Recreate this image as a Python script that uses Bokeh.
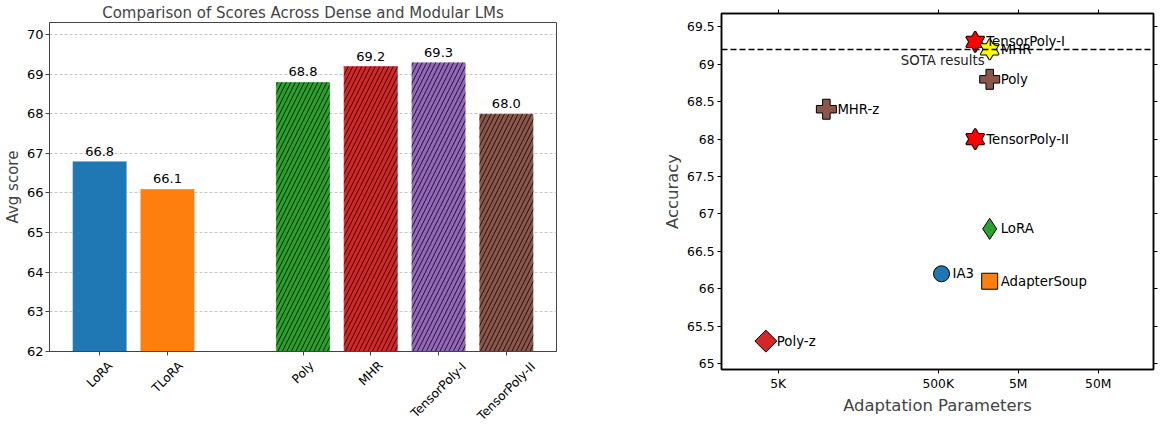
import math
from bokeh.plotting import figure
from bokeh.models import Range1d, FixedTicker, LinearAxis, LogAxis
from bokeh.layouts import row, column
from bokeh.embed import file_html
from bokeh.resources import INLINE
from bokeh.core.properties import value

# ---------------- data: bar chart ----------------
bar_title = "Comparison of Scores Across Dense and Modular LMs"
dense_models = ["LoRA", "TLoRA"]
dense_scores = [66.8, 66.1]
modular_models = ["Poly", "MHR", "TensorPoly-I", "TensorPoly-II"]
modular_scores = [68.8, 69.2, 69.3, 68.0]
score_ticks = [62, 63, 64, 65, 66, 67, 68, 69, 70]
score_label = "Avg score"

# ---------------- data: scatter ----------------
methods = ["TensorPoly-I", "MHR", "Poly", "MHR-z", "TensorPoly-II",
           "LoRA", "IA3", "AdapterSoup", "Poly-z"]
params = [1.45e6, 2.2e6, 2.2e6, 2.0e4, 1.45e6, 2.2e6, 5.5e5, 2.2e6, 3.5e3]
accuracy = [69.3, 69.2, 68.8, 68.4, 68.0, 66.8, 66.2, 66.1, 65.3]
sota_value = 69.2
sota_label = "SOTA results"
sota_label_x = 1.9e6
param_ticks = [5e3, 5e5, 5e6, 5e7]
param_tick_labels = ["5K", "500K", "5M", "50M"]
acc_ticks = [65, 65.5, 66, 66.5, 67, 67.5, 68, 68.5, 69, 69.5]
x_label = "Adaptation Parameters"
y_label = "Accuracy"

# ---------------- styles ----------------
FONT = "DejaVu Sans"
dense_colors = ["#1f77b4", "#ff7f0e"]
modular_colors = ["#2ca02c", "#d62728", "#9467bd", "#8c564b"]
marker_style = {
    "TensorPoly-I": ("hexagram", "#ff0000", 18),
    "MHR": ("hexagram", "#ffff00", 18),
    "Poly": ("plus", "#8c564b", 20),
    "MHR-z": ("plus", "#8c564b", 20),
    "TensorPoly-II": ("hexagram", "#ff0000", 18),
    "LoRA": ("diamond", "#2ca02c", 21),
    "IA3": ("circle", "#1f77b4", 16),
    "AdapterSoup": ("square", "#ff7f0e", 16),
    "Poly-z": ("rdiamond", "#d62728", 15.5),
}
# approximate DejaVu Sans advance widths (em), used to centre rotated tick labels
EM = {"L": .557, "o": .612, "R": .695, "A": .684, "T": .611, "P": .603, "l": .278,
      "y": .592, "M": .863, "H": .752, "e": .615, "n": .634, "s": .521, "r": .411,
      "-": .361, "I": .295}


def text_em(s):
    return sum(EM.get(c, 0.6) for c in s)


# ================= left: bar chart =================
n_dense = len(dense_models)
dense_x = list(range(n_dense))
modular_x = [n_dense + 1 + i for i in range(len(modular_models))]
all_x = dense_x + modular_x
all_names = dense_models + modular_models
all_scores = dense_scores + modular_scores

LEFT_B, RIGHT_B, FRAME_W = 45, 10, 507
AX_B = 8          # space under the bar frame kept by the (label-less) x axis
STRIP_H = 66      # strip holding the rotated category names

bar_xr = Range1d(-0.74, max(all_x) + 0.74)
p1 = figure(frame_width=FRAME_W, frame_height=329, x_range=bar_xr,
            y_range=Range1d(score_ticks[0], 70.3),
            title=bar_title, output_backend="svg", toolbar_location=None,
            min_border_left=LEFT_B, min_border_right=RIGHT_B, min_border_top=16,
            min_border_bottom=AX_B)
p1.title.align = "center"
p1.title.text_font = FONT
p1.title.text_font_size = "15px"
p1.title.text_font_style = "normal"
p1.title.standoff = 2

p1.vbar(x=dense_x, top=dense_scores, bottom=0, width=0.8,
        fill_color=dense_colors, line_color="white", line_width=0.6, line_alpha=0.6)
p1.vbar(x=modular_x, top=modular_scores, bottom=0, width=0.8,
        fill_color=modular_colors, line_color="white", line_width=0.6, line_alpha=0.6,
        hatch_pattern="/", hatch_color="black", hatch_scale=9, hatch_weight=0.8)
p1.text(x=all_x, y=all_scores, text=[f"{v:.1f}" for v in all_scores],
        text_align="center", text_baseline="alphabetic", y_offset=-10,
        text_font=value(FONT), text_font_size="13px", text_color="black")

p1.xaxis.ticker = FixedTicker(ticks=all_x)
p1.xaxis.major_label_text_font_size = "1px"
p1.xaxis.major_label_text_alpha = 0
p1.yaxis.ticker = FixedTicker(ticks=score_ticks)
p1.yaxis.major_label_text_font_size = "13px"
p1.yaxis.axis_label = score_label
for ax in (p1.xaxis[0], p1.yaxis[0]):
    ax.major_label_text_font = FONT
    ax.major_label_text_color = "black"
    ax.axis_label_text_font = FONT
    ax.axis_label_text_font_size = "15px"
    ax.axis_label_text_font_style = "normal"
    ax.axis_label_standoff = 2
    ax.major_tick_in = 0
    ax.major_tick_out = 4
    ax.minor_tick_out = 0
    ax.major_label_standoff = 2
    ax.axis_line_color = "#444444"
    ax.major_tick_line_color = "#444444"
p1.xaxis.major_label_standoff = 0
p1.xgrid.visible = False
p1.ygrid.ticker = FixedTicker(ticks=score_ticks)
p1.ygrid.grid_line_color = "#b8b8b8"
p1.ygrid.grid_line_dash = "3 2"
p1.ygrid.grid_line_width = 0.8
p1.outline_line_color = "#444444"
p1.outline_line_width = 1

# strip under the bars with the rotated category names, centred under their ticks
tick_px = 12.2
strip = figure(frame_width=FRAME_W, frame_height=STRIP_H, x_range=bar_xr,
               y_range=Range1d(-STRIP_H, 0), output_backend="svg", toolbar_location=None,
               x_axis_location=None, y_axis_location=None,
               min_border_left=LEFT_B, min_border_right=RIGHT_B,
               min_border_top=0, min_border_bottom=0)
strip.grid.visible = False
strip.outline_line_color = None
half_diag = [(text_em(n) + 1.164) * tick_px * math.sqrt(0.5) / 2 for n in all_names]
strip.text(x=all_x, y=[-(7.0 + d - AX_B) for d in half_diag], text=all_names,
           angle=math.pi / 4, text_align="center", text_baseline="middle",
           text_font=value(FONT), text_font_size=f"{tick_px}px", text_color="black")

# ================= right: scatter =================
p2 = figure(width=592, height=419, x_axis_type="log",
            x_range=Range1d(10 ** 2.99, 10 ** 8.39),
            y_range=Range1d(64.92, 69.68),
            output_backend="svg", toolbar_location=None,
            min_border_left=155, min_border_right=5, min_border_top=13,
            min_border_bottom=50)
p2.grid.visible = False
p2.outline_line_color = "black"
p2.outline_line_width = 1.5

for name, x, y in zip(methods, params, accuracy):
    kind, color, size = marker_style[name]
    if kind == "hexagram":
        for lc in ("black", None):
            for m in ("triangle", "inverted_triangle"):
                p2.scatter([x], [y], marker=m, size=size, fill_color=color,
                           line_color=lc, line_width=2)
    elif kind == "rdiamond":
        p2.scatter([x], [y], marker="square", angle=math.pi / 4, size=size,
                   fill_color=color, line_color="black", line_width=1)
    else:
        p2.scatter([x], [y], marker=kind, size=size, fill_color=color,
                   line_color="black", line_width=1)

p2.hspan(y=[sota_value], line_color="black", line_dash="6 3", line_width=1.5)

p2.text(x=params, y=accuracy, text=methods, x_offset=11,
        text_align="left", text_baseline="middle",
        text_font=value(FONT), text_font_size="13.3px", text_color="black")
p2.text(x=[sota_label_x], y=[sota_value], text=[sota_label],
        text_align="right", text_baseline="top", y_offset=4,
        text_font=value(FONT), text_font_size="13.3px", text_color="#222222")

p2.xaxis.ticker = FixedTicker(ticks=param_ticks)
p2.xaxis.major_label_overrides = {t: l for t, l in zip(param_ticks, param_tick_labels)}
p2.xaxis.axis_label = x_label
p2.yaxis.ticker = FixedTicker(ticks=acc_ticks)
p2.yaxis.major_label_overrides = {t: f"{t:g}" for t in acc_ticks}
p2.yaxis.axis_label = y_label

p2.add_layout(LinearAxis(ticker=FixedTicker(ticks=acc_ticks)), "right")
p2.add_layout(LogAxis(ticker=FixedTicker(ticks=param_ticks)), "above")

for ax in p2.xaxis + p2.yaxis:
    ax.major_label_text_font = FONT
    ax.major_label_text_font_size = "12.3px"
    ax.major_label_text_color = "black"
    ax.axis_label_text_font = FONT
    ax.axis_label_text_font_size = "16.4px"
    ax.axis_label_text_font_style = "normal"
    ax.axis_label_standoff = 2
    ax.major_tick_in = 0
    ax.major_tick_out = 4
    ax.minor_tick_out = 0
    ax.minor_tick_in = 0
    ax.major_label_standoff = 3
    ax.axis_line_color = "black"
    ax.axis_line_width = 1.5
    ax.major_tick_line_color = "black"
for ax in (p2.right[0], p2.above[0]):
    ax.major_label_text_font_size = "1px"
    ax.major_label_text_alpha = 0
    ax.major_label_standoff = 0
# keep a little room above the frame (the hidden top labels reserve almost nothing)
p2.above[0].major_label_standoff = 8

layout = row(column(p1, strip), column(p2))
open("out.html", "w").write(file_html(layout, INLINE))
